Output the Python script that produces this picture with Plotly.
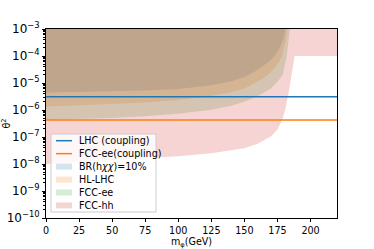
import plotly.graph_objects as go

# ---------------- data ----------------
x_max = 220
theta_top = 1e-3
y_log_range = [-10, -3]
x_ticks = [0, 25, 50, 75, 100, 125, 150, 175, 200]

mass_br = [0, 25, 50, 75, 100, 125, 140, 150, 160, 170, 175, 178, 180, 181]
theta_br = [4.47e-6, 4.68e-6, 4.9e-6, 5.25e-6, 6.0e-6, 8.3e-6, 1.17e-5, 1.66e-5,
            3.0e-5, 7.1e-5, 1.41e-4, 2.8e-4, 5.6e-4, 1e-3]

mass_hllhc = [0, 25, 50, 75, 100, 125, 140, 150, 160, 165, 170, 175, 178, 181, 182.5]
theta_hllhc = [1.35e-6, 1.48e-6, 1.66e-6, 1.9e-6, 2.34e-6, 3.3e-6, 4.6e-6, 6.3e-6,
               1.12e-5, 1.58e-5, 2.5e-5, 5.0e-5, 8.9e-5, 3.2e-4, 1e-3]

mass_fccee = [0, 25, 50, 75, 100, 125, 140, 150, 160, 170, 175, 179, 182, 184.5]
theta_fccee = [4.4e-7, 4.7e-7, 5.1e-7, 5.9e-7, 7.2e-7, 1.02e-6, 1.45e-6, 2.0e-6,
               3.2e-6, 6.3e-6, 1.12e-5, 2.0e-5, 1e-4, 1e-3]

mass_fcchh = [0, 25, 50, 75, 100, 125, 150, 160, 170, 175, 179, 181, 184, 188, 220]
theta_fcchh = [1e-8, 1.17e-8, 1.38e-8, 1.62e-8, 1.95e-8, 2.5e-8, 3.8e-8, 5.6e-8,
               1.05e-7, 1.9e-7, 5.0e-7, 1.12e-6, 6.3e-6, 1e-4, 1e-4]

lhc_coupling = 3.1e-6
fccee_coupling = 4.3e-7

line_labels = ["LHC (coupling)", "FCC-ee(coupling)"]
region_labels = ["BR(h<i>χχ</i>)=10%", "HL-LHC", "FCC-ee", "FCC-hh"]

# ---------------- styling ----------------
line_colors = ["#1f77b4", "#ff7f0e"]
fill_colors = ["rgba(31,119,180,0.2)", "rgba(255,127,14,0.2)",
               "rgba(44,160,44,0.2)", "rgba(214,39,40,0.2)"]
FONT = "DejaVu Sans"
FS = 9.6

W, H = 374, 249
ML, MR, MT, MB = 46, 37, 29, 31
PW, PH = W - ML - MR, H - MT - MB


def pxx(x):
    return (x - ML) / PW


def pxy(y):
    return (H - MB - y) / PH


fig = go.Figure()

regions = [(mass_br, theta_br), (mass_hllhc, theta_hllhc),
           (mass_fccee, theta_fccee), (mass_fcchh, theta_fcchh)]
for (m, t), col, lab in zip(regions, fill_colors, region_labels):
    fig.add_trace(go.Scatter(
        x=list(m) + list(m)[::-1],
        y=list(t) + [theta_top] * len(m),
        fill="toself", fillcolor=col, mode="lines", line=dict(width=0),
        name=lab, showlegend=False, hoverinfo="skip"))

for val, col, lab in zip([lhc_coupling, fccee_coupling], line_colors, line_labels):
    fig.add_trace(go.Scatter(
        x=[0, x_max], y=[val, val], mode="lines",
        line=dict(color=col, width=1.5), name=lab, showlegend=False))

# ---------------- legend (matplotlib-style box) ----------------
shapes = [dict(type="rect", xref="paper", yref="paper",
               x0=pxx(51), x1=pxx(156), y0=pxy(212), y1=pxy(134),
               fillcolor="rgba(255,255,255,0.8)",
               line=dict(color="#cccccc", width=1), layer="above")]
annotations = []
labels = line_labels + region_labels
row0, row_step = 140.7, 12.95
for i, lab in enumerate(labels):
    yc = row0 + i * row_step
    if i < 2:
        shapes.append(dict(type="line", xref="paper", yref="paper",
                           x0=pxx(56), x1=pxx(72), y0=pxy(yc), y1=pxy(yc),
                           line=dict(color=line_colors[i], width=1.5), layer="above"))
    else:
        shapes.append(dict(type="rect", xref="paper", yref="paper",
                           x0=pxx(56), x1=pxx(72), y0=pxy(yc + 3), y1=pxy(yc - 3),
                           fillcolor=fill_colors[i - 2], line=dict(width=0), layer="above"))
    annotations.append(dict(xref="paper", yref="paper", x=pxx(77), y=pxy(yc),
                            xanchor="left", yanchor="middle", text=lab, showarrow=False,
                            font=dict(family=FONT, size=FS, color="black")))

fig.update_layout(
    width=W, height=H,
    margin=dict(l=ML, r=MR, t=MT, b=MB, pad=0),
    paper_bgcolor="white", plot_bgcolor="white",
    font=dict(family=FONT, size=FS, color="black"),
    shapes=shapes, annotations=annotations, showlegend=False,
)
fig.update_xaxes(
    range=[0, x_max], tickmode="array", tickvals=x_ticks,
    ticks="outside", ticklen=3.5, tickwidth=0.8, tickcolor="black",
    showline=True, mirror=True, linecolor="black", linewidth=0.8,
    showgrid=False, zeroline=False, automargin=False,
    title=dict(text="m<sub>φ</sub>(GeV)", standoff=1, font=dict(size=FS)),
)
fig.update_yaxes(
    type="log", range=y_log_range, dtick=1, exponentformat="power",
    ticks="outside", ticklen=3.5, tickwidth=0.8, tickcolor="black",
    minor=dict(ticks="outside", ticklen=2, tickwidth=0.6, tickcolor="black",
               dtick="D1", showgrid=False),
    showline=True, mirror=True, linecolor="black", linewidth=0.8,
    showgrid=False, zeroline=False, automargin=False,
    title=dict(text="θ<sup>2</sup>", standoff=2, font=dict(size=FS)),
)

fig.write_html(
    "out.html",
    config={"displayModeBar": False},
    post_script="document.body.style.margin='0';document.body.style.overflow='hidden';",
)
